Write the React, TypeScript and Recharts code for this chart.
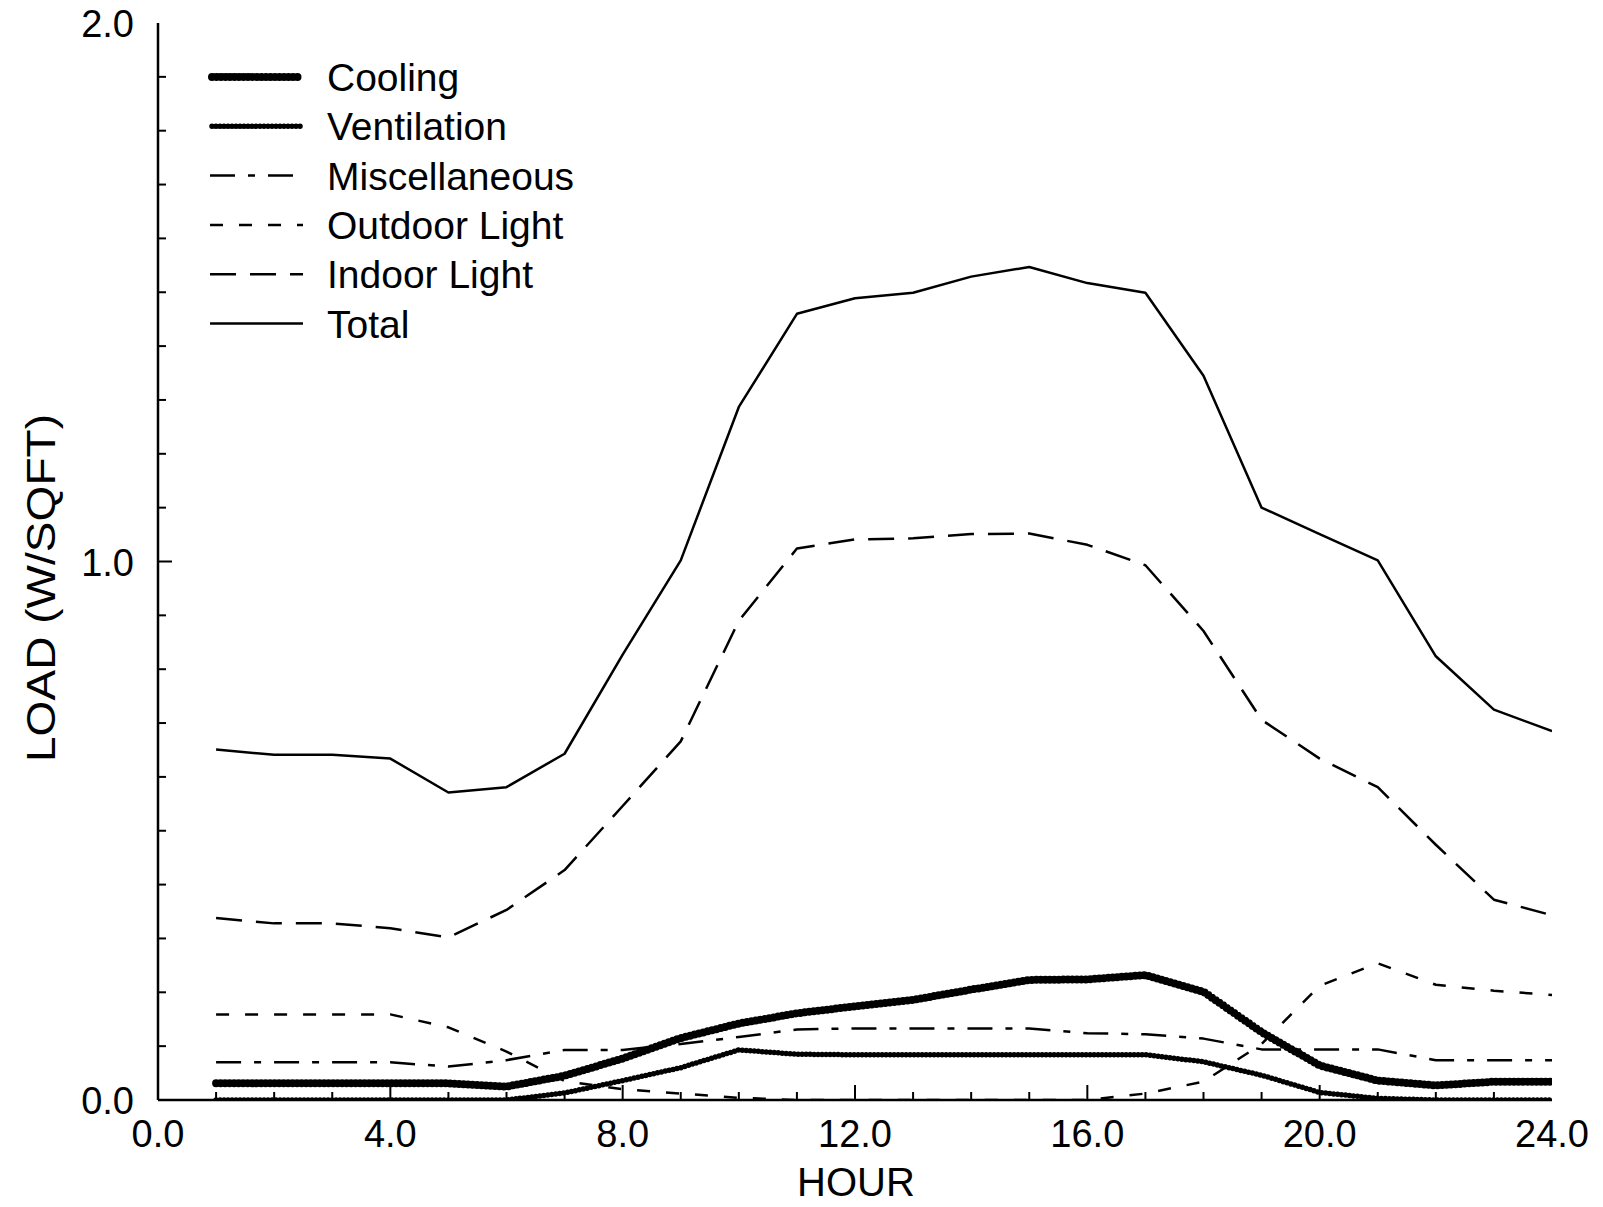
import React from 'react';
import { LineChart, Line, XAxis, YAxis, Legend } from 'recharts';

// Hourly building load profile (W per square foot)
const hours = [1, 2, 3, 4, 5, 6, 7, 8, 9, 10, 11, 12, 13, 14, 15, 16, 17, 18, 19, 20, 21, 22, 23, 24];

const cooling = [0.031, 0.031, 0.031, 0.031, 0.031, 0.025, 0.045, 0.077, 0.115, 0.142, 0.161, 0.174, 0.186, 0.205, 0.223, 0.224, 0.232, 0.201, 0.126, 0.064, 0.036, 0.027, 0.034, 0.034];
const ventilation = [0, 0, 0, 0, 0, 0, 0.013, 0.036, 0.06, 0.093, 0.085, 0.084, 0.084, 0.084, 0.084, 0.084, 0.084, 0.071, 0.046, 0.014, 0.003, 0, 0, 0];
const miscellaneous = [0.07, 0.07, 0.07, 0.07, 0.062, 0.074, 0.093, 0.093, 0.104, 0.117, 0.131, 0.133, 0.133, 0.133, 0.133, 0.124, 0.122, 0.114, 0.094, 0.094, 0.094, 0.074, 0.074, 0.074];
const outdoorLight = [0.159, 0.159, 0.159, 0.159, 0.135, 0.09, 0.035, 0.02, 0.012, 0.004, 0, 0, 0, 0, 0, 0, 0.012, 0.034, 0.104, 0.212, 0.254, 0.214, 0.203, 0.195];
const indoorLight = [0.338, 0.328, 0.328, 0.319, 0.302, 0.353, 0.427, 0.546, 0.666, 0.89, 1.024, 1.041, 1.043, 1.051, 1.052, 1.031, 0.993, 0.871, 0.706, 0.634, 0.581, 0.474, 0.372, 0.343];
const total = [0.651, 0.641, 0.641, 0.634, 0.571, 0.581, 0.643, 0.827, 1.002, 1.287, 1.46, 1.489, 1.499, 1.529, 1.547, 1.517, 1.499, 1.345, 1.1, 1.051, 1.002, 0.824, 0.725, 0.685];

const xTicks = [0, 1, 2, 3, 4, 5, 6, 7, 8, 9, 10, 11, 12, 13, 14, 15, 16, 17, 18, 19, 20, 21, 22, 23, 24];
const xLabelTicks = [0, 4, 8, 12, 16, 20, 24];
const yTicks = [0, 0.1, 0.2, 0.3, 0.4, 0.5, 0.6, 0.7, 0.8, 0.9, 1.0, 1.1, 1.2, 1.3, 1.4, 1.5, 1.6, 1.7, 1.8, 1.9, 2.0];
const yLabelTicks = [0, 1, 2];

const FONT = '"Liberation Sans", Arial, Helvetica, sans-serif';

type SeriesDef = {
  key: string;
  name: string;
  values: number[];
  width: number;
  dash?: string;
  beaded?: boolean;
};

// The two heaviest curves are drawn as strings of round beads.
const series: SeriesDef[] = [
  { key: 'cooling', name: 'Cooling', values: cooling, width: 8, dash: '0 4.5', beaded: true },
  { key: 'ventilation', name: 'Ventilation', values: ventilation, width: 5.5, dash: '0 4', beaded: true },
  { key: 'misc', name: 'Miscellaneous', values: miscellaneous, width: 2.5, dash: '25 13 7 13' },
  { key: 'outdoor', name: 'Outdoor Light', values: outdoorLight, width: 2.5, dash: '13 16' },
  { key: 'indoor', name: 'Indoor Light', values: indoorLight, width: 2.5, dash: '26 14' },
  { key: 'total', name: 'Total', values: total, width: 2.5 },
];

const data = hours.map((h, i) => {
  const row: Record<string, number> = { hour: h };
  series.forEach((s) => {
    row[s.key] = s.values[i];
  });
  return row;
});

const isMajor = (v: number, step: number) => Math.abs(v / step - Math.round(v / step)) < 1e-6;

const BottomTick = (props: any) => {
  const { x, y, payload } = props;
  const v = payload.value as number;
  const major = xLabelTicks.includes(v);
  return (
    <g>
      {v > 0 && v < 24 && (
        <line x1={x} y1={y} x2={x} y2={y - (major ? 15 : 8)} stroke="#000" strokeWidth={2} />
      )}
      {major && (
        <text x={x} y={y + 47} textAnchor="middle" fontSize={38} fontFamily={FONT} fill="#000">
          {v.toFixed(1)}
        </text>
      )}
    </g>
  );
};

const TopTick = (props: any) => {
  const { x, y, payload } = props;
  const v = payload.value as number;
  const major = xLabelTicks.includes(v);
  if (v <= 0 || v >= 24) return <g />;
  return <line x1={x} y1={y} x2={x} y2={y + (major ? 15 : 8)} stroke="#000" strokeWidth={2} />;
};

const LeftTick = (props: any) => {
  const { x, y, payload } = props;
  const v = payload.value as number;
  const labelled = yLabelTicks.some((t) => Math.abs(t - v) < 1e-6);
  const major = isMajor(v, 1);
  return (
    <g>
      {v > 0 && v < 2 && (
        <line x1={x} y1={y} x2={x + (major ? 14 : 8)} y2={y} stroke="#000" strokeWidth={2} />
      )}
      {labelled && (
        <text x={x - 24} y={y + 14} textAnchor="end" fontSize={38} fontFamily={FONT} fill="#000">
          {v.toFixed(1)}
        </text>
      )}
    </g>
  );
};

const RightTick = (props: any) => {
  const { x, y, payload } = props;
  const v = payload.value as number;
  const major = isMajor(v, 1);
  if (v <= 0 || v >= 2) return <g />;
  return <line x1={x} y1={y} x2={x - (major ? 14 : 8)} y2={y} stroke="#000" strokeWidth={2} />;
};

const LegendBox = () => (
  <svg width={640} height={360} style={{ display: 'block', overflow: 'visible' }}>
    {series.map((s, i) => {
      const cy = 77 + i * 49.3;
      return (
        <g key={s.key}>
          <line
            x1={s.beaded ? 212 : 210}
            y1={cy}
            x2={s.beaded ? 301 : 303}
            y2={cy}
            stroke="#000"
            strokeWidth={s.width}
            strokeDasharray={s.dash}
            strokeLinecap={s.beaded ? 'round' : 'butt'}
          />
          <text x={327} y={cy + 14} fontSize={39} fontFamily={FONT} fill="#000">
            {s.name}
          </text>
        </g>
      );
    })}
  </svg>
);

export default function App() {
  return (
    <div style={{ position: 'absolute', left: 0, top: 0, width: 1603, height: 1207, background: '#fff' }}>
      <LineChart
        width={1603}
        height={1207}
        data={data}
        margin={{ top: 23, right: 51, bottom: 0, left: 0 }}
      >
        <XAxis
          dataKey="hour"
          type="number"
          domain={[0, 24]}
          ticks={xTicks}
          interval={0}
          height={107}
          tickSize={0}
          tickMargin={0}
          tickLine={false}
          axisLine={{ stroke: '#000', strokeWidth: 2.5 }}
          tick={<BottomTick />}
          allowDataOverflow
        />
        <XAxis
          xAxisId="top"
          orientation="top"
          type="number"
          domain={[0, 24]}
          ticks={xTicks}
          interval={0}
          height={0}
          tickSize={0}
          tickMargin={0}
          tickLine={false}
          axisLine={{ stroke: '#000', strokeWidth: 2.5 }}
          tick={<TopTick />}
          allowDataOverflow
        />
        <YAxis
          type="number"
          domain={[0, 2]}
          ticks={yTicks}
          interval={0}
          width={158}
          tickSize={0}
          tickMargin={0}
          tickLine={false}
          axisLine={{ stroke: '#000', strokeWidth: 2.5 }}
          tick={<LeftTick />}
          allowDataOverflow
        />
        <YAxis
          yAxisId="right"
          orientation="right"
          type="number"
          domain={[0, 2]}
          ticks={yTicks}
          interval={0}
          width={0}
          tickSize={0}
          tickMargin={0}
          tickLine={false}
          axisLine={{ stroke: '#000', strokeWidth: 2.5 }}
          tick={<RightTick />}
          allowDataOverflow
        />
        {series.map((s) => (
          <Line
            key={s.key}
            dataKey={s.key}
            name={s.name}
            type="linear"
            stroke="#000"
            strokeWidth={s.width}
            strokeDasharray={s.dash}
            strokeLinejoin="round"
            strokeLinecap={s.beaded ? 'round' : 'butt'}
            dot={false}
            activeDot={false}
            isAnimationActive={false}
          />
        ))}
        <Legend
          layout="vertical"
          align="center"
          verticalAlign="middle"
          content={<LegendBox />}
          wrapperStyle={{ left: 0, top: 0, width: 640, height: 360 }}
        />
      </LineChart>
      <div
        style={{
          position: 'absolute',
          left: 0,
          top: 1158,
          width: 1712,
          textAlign: 'center',
          fontFamily: FONT,
          fontSize: 40,
          lineHeight: '48px',
          color: '#000',
        }}
      >
        HOUR
      </div>
      <svg style={{ position: 'absolute', left: 0, top: 0 }} width={100} height={1207}>
        <text
          x={0}
          y={0}
          transform="translate(55 588) rotate(-90)"
          textAnchor="middle"
          fontSize={41}
          fontFamily={FONT}
          textLength={348}
          lengthAdjust="spacingAndGlyphs"
          fill="#000"
        >
          LOAD (W/SQFT)
        </text>
      </svg>
    </div>
  );
}
